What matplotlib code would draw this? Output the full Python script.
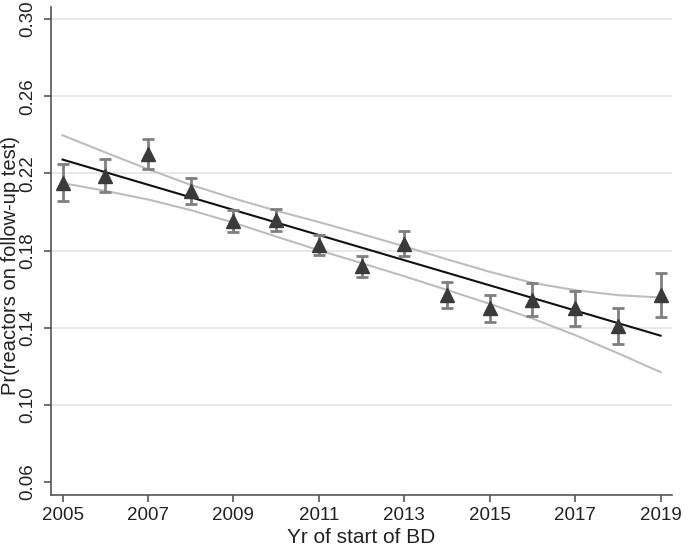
import matplotlib
matplotlib.use("Agg")
import matplotlib.pyplot as plt
import numpy as np

years = [2005, 2006, 2007, 2008, 2009, 2010, 2011, 2012, 2013, 2014, 2015, 2016, 2017, 2018, 2019]
prop = [0.2152, 0.2188, 0.2300, 0.2108, 0.1954, 0.1959, 0.1829, 0.1718, 0.1835, 0.1572, 0.1500, 0.1545, 0.1500, 0.1410, 0.1570]
ci_low = [0.2056, 0.2102, 0.2222, 0.2042, 0.1897, 0.1904, 0.1775, 0.1664, 0.1770, 0.1505, 0.1429, 0.1460, 0.1409, 0.1314, 0.1454]
ci_high = [0.2248, 0.2274, 0.2377, 0.2174, 0.2011, 0.2014, 0.1883, 0.1773, 0.1901, 0.1638, 0.1571, 0.1630, 0.1591, 0.1505, 0.1686]

fit_years = [2005, 2019]
fit_vals = [0.2272, 0.1359]

band_upper = [0.2398, 0.2309, 0.2222, 0.2141, 0.2071, 0.2007, 0.1948, 0.1886, 0.1822, 0.1755, 0.1690, 0.1633, 0.1595, 0.1569, 0.1557]
band_lower = [0.2150, 0.2110, 0.2065, 0.2010, 0.1945, 0.1873, 0.1802, 0.1735, 0.1667, 0.1596, 0.1524, 0.1448, 0.1362, 0.1268, 0.1170]

yticks = [0.06, 0.10, 0.14, 0.18, 0.22, 0.26, 0.30]
xticks = [2005, 2007, 2009, 2011, 2013, 2015, 2017, 2019]

plt.rcParams['font.family'] = ['Liberation Sans', 'DejaVu Sans']

fig = plt.figure(figsize=(6.85, 5.5), dpi=100)
ax = fig.add_axes([0.0745, 0.1000, 0.9806 - 0.0745, 0.9873 - 0.1000])

ax.set_xlim(2004.73, 2019.26)
ax.set_ylim(0.0533, 0.3063)

for yt in yticks[1:]:
    ax.axhline(yt, color='#e3e3e3', lw=1.2, zorder=0)

ax.plot(years, band_upper, color='#bdbdbd', lw=1.5, zorder=1)
ax.plot(years, band_lower, color='#bdbdbd', lw=1.5, zorder=1)
ax.plot(fit_years, fit_vals, color='#111111', lw=1.5, zorder=2)

p = np.array(prop)
yerr = np.vstack([p - np.array(ci_low), np.array(ci_high) - p])
ax.errorbar(years, prop, yerr=yerr, fmt='none', ecolor='#7f7f7f', elinewidth=2,
            capsize=4, capthick=2, zorder=3)
ax.plot(years, prop, linestyle='none', marker='^', markersize=10,
        color='#3a3a3a', markeredgecolor='#3a3a3a', zorder=4)

ax.set_xticks(xticks)
ax.set_xticklabels([str(x) for x in xticks])
ax.set_yticks(yticks)
ax.set_yticklabels([f"{y:.2f}" for y in yticks], rotation=90, va='center')

for s in ['top', 'right']:
    ax.spines[s].set_visible(False)
for s in ['left', 'bottom']:
    ax.spines[s].set_color('#555555')
    ax.spines[s].set_linewidth(1.2)

ax.tick_params(axis='both', colors='#555555', labelcolor='#222222', labelsize=13.5,
               length=5, width=1.2, direction='out')
ax.tick_params(axis='y', pad=6)
ax.tick_params(axis='x', pad=4)

ax.set_xlabel('Yr of start of BD', fontsize=15, color='#222222')
ax.xaxis.set_label_coords(0.5, -0.068)
ax.set_ylabel('Pr(reactors on follow-up test)', fontsize=14.5, color='#222222')
ax.yaxis.set_label_coords(-0.050, 0.47)

fig.savefig('out.png', dpi=100)
